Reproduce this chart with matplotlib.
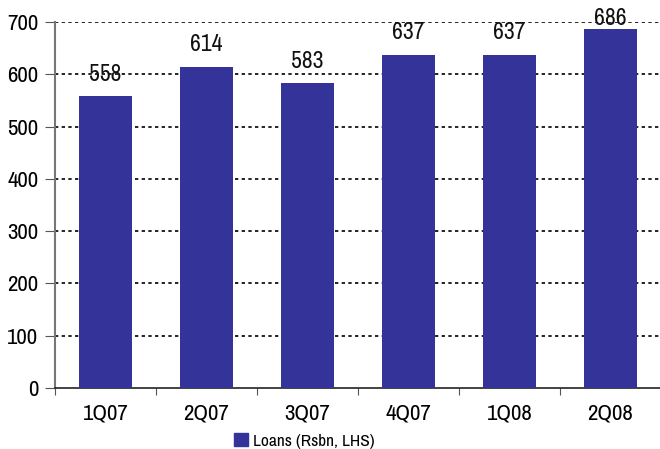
import matplotlib
matplotlib.use("Agg")
import matplotlib.pyplot as plt
from matplotlib.patches import Patch

quarters = ["1Q07", "2Q07", "3Q07", "4Q07", "1Q08", "2Q08"]
loans = [558, 614, 583, 637, 637, 686]
yticks = [0, 100, 200, 300, 400, 500, 600, 700]

plt.rcParams['font.family'] = ['Archivo Narrow', 'DejaVu Sans']
bar_color = '#333399'

fig = plt.figure(figsize=(6.6, 4.49), dpi=100)
ax = fig.add_axes([55 / 660, 61 / 449, 606 / 660, 366 / 449])

x = list(range(len(quarters)))
bars = ax.bar(x, loans, width=0.53, color=bar_color, zorder=3)
# labels sit ~12px above the bar, but are kept from running off the top
for xi, v in zip(x, loans):
    ax.text(xi, min(v + 22, 686), str(v), ha='center', va='bottom',
            fontsize=17, color='#111111', zorder=4)

ax.set_xlim(-0.5, len(quarters) - 0.5)
ax.set_ylim(0, 700)
ax.set_yticks(yticks)
ax.set_xticks([i - 0.5 for i in range(len(quarters) + 1)])
ax.set_xticklabels([])
ax.set_xticks(x, minor=True)
ax.set_xticklabels(quarters, minor=True, fontsize=16.5)
ax.tick_params(axis='x', which='minor', length=0, pad=11)
ax.tick_params(axis='x', which='major', length=5, color='#555555')
ax.tick_params(axis='y', labelsize=16.5, length=7, color='#555555', pad=5)

for y in yticks[1:]:
    ax.axhline(y, color='black', linestyle=(0, (2, 2)), linewidth=1.2, zorder=1)

for s in ['top', 'right']:
    ax.spines[s].set_visible(False)
ax.spines['left'].set_color('#777777')
ax.spines['left'].set_linewidth(1.5)
ax.spines['bottom'].set_color('#222222')
ax.spines['bottom'].set_linewidth(1.2)

handle = Patch(color=bar_color, label='Loans (Rsbn, LHS)')
fig.legend(handles=[handle], loc='center', bbox_to_anchor=(304 / 660, 1 - 441 / 449),
           frameon=False, fontsize=12.5, handlelength=0.8, handleheight=0.8,
           handletextpad=0.3, borderpad=0)

plt.savefig("out.png", dpi=100)
plt.close()
